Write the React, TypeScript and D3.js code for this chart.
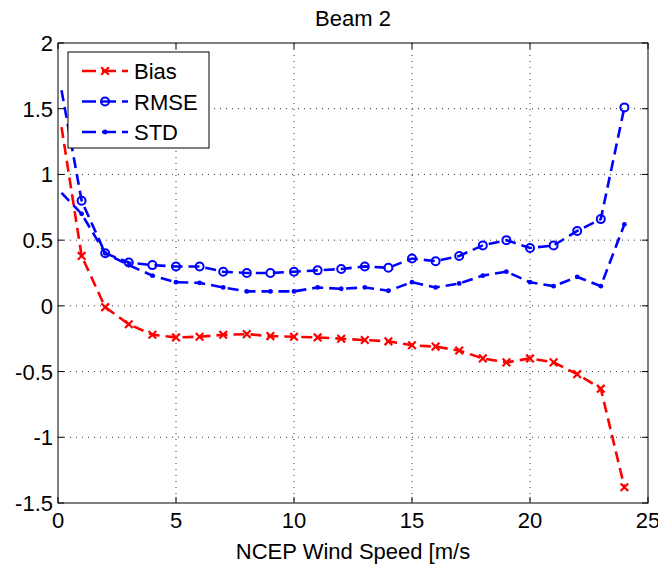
import React from "react";
import * as d3 from "d3";

const windSpeed = [0.15, 1, 2, 3, 4, 5, 6, 7, 8, 9, 10, 11, 12, 13, 14, 15, 16, 17, 18, 19, 20, 21, 22, 23, 24];
const bias = [1.36, 0.38, -0.01, -0.14, -0.22, -0.24, -0.235, -0.22, -0.215, -0.23, -0.235, -0.24, -0.25, -0.26, -0.27, -0.3, -0.31, -0.34, -0.4, -0.43, -0.4, -0.43, -0.52, -0.63, -1.38];
const rmse = [1.64, 0.8, 0.4, 0.33, 0.31, 0.3, 0.3, 0.26, 0.25, 0.25, 0.26, 0.27, 0.28, 0.3, 0.29, 0.36, 0.34, 0.38, 0.46, 0.5, 0.44, 0.46, 0.57, 0.66, 1.51];
const stdev = [0.86, 0.7, 0.4, 0.31, 0.23, 0.18, 0.175, 0.14, 0.11, 0.11, 0.11, 0.14, 0.13, 0.14, 0.115, 0.18, 0.14, 0.17, 0.23, 0.26, 0.18, 0.15, 0.22, 0.15, 0.62];
const xTicks = [0, 5, 10, 15, 20, 25];
const yTicks = [-1.5, -1, -0.5, 0, 0.5, 1, 1.5, 2];
const seriesNames = ["Bias", "RMSE", "STD"];
const title = "Beam 2";
const xLabel = "NCEP Wind Speed [m/s";

const W = 658;
const H = 565;
const L = 58, R = 648, T = 43, B = 503;
const FONT = "'Liberation Sans', Arial, Helvetica, sans-serif";

type Marker = "x" | "o" | ".";

function MarkerShape({ type, cx, cy, color }: { type: Marker; cx: number; cy: number; color: string }) {
  if (type === "x") {
    const s = 3.8;
    return (
      <path d={`M${cx - s},${cy - s}L${cx + s},${cy + s}M${cx - s},${cy + s}L${cx + s},${cy - s}`} stroke={color} strokeWidth={2.2} fill="none" />
    );
  }
  if (type === "o") {
    return <circle cx={cx} cy={cy} r={4} stroke={color} strokeWidth={2} fill="none" />;
  }
  return <circle cx={cx} cy={cy} r={2.4} fill={color} />;
}

export default function App() {
  const x = d3.scaleLinear().domain([0, 25]).range([L, R]);
  const y = d3.scaleLinear().domain([-1.5, 2]).range([B, T]);
  const line = d3
    .line<[number, number]>()
    .x((d) => x(d[0]))
    .y((d) => y(d[1]));

  const series: { name: string; values: number[]; color: string; marker: Marker }[] = [
    { name: seriesNames[0], values: bias, color: "#ff0000", marker: "x" },
    { name: seriesNames[1], values: rmse, color: "#0000ff", marker: "o" },
    { name: seriesNames[2], values: stdev, color: "#0000ff", marker: "." },
  ];

  const dash = "11,6";
  const tickLen = 6;

  return (
    <svg width={W} height={H} style={{ position: "absolute", left: 0, top: 0, background: "#fff" }} fontFamily={FONT}>
      <rect x={0} y={0} width={W} height={H} fill="#fff" />
      {/* grid */}
      {xTicks.slice(1, -1).map((t) => (
        <line key={"gx" + t} x1={x(t)} x2={x(t)} y1={T} y2={B} stroke="#333" strokeWidth={1} strokeDasharray="1,5" />
      ))}
      {yTicks.slice(1, -1).map((t) => (
        <line key={"gy" + t} x1={L} x2={R} y1={y(t)} y2={y(t)} stroke="#333" strokeWidth={1} strokeDasharray="1,5" />
      ))}
      {/* data */}
      {series.map((s) => {
        const pts = windSpeed.map((w, i) => [w, s.values[i]] as [number, number]);
        return (
          <g key={s.name}>
            <path d={line(pts) || ""} fill="none" stroke={s.color} strokeWidth={2.6} strokeDasharray={dash} />
            {pts.slice(1).map((p, i) => (
              <MarkerShape key={i} type={s.marker} cx={x(p[0])} cy={y(p[1])} color={s.color} />
            ))}
          </g>
        );
      })}
      {/* frame */}
      <rect x={L} y={T} width={R - L} height={B - T} fill="none" stroke="#000" strokeWidth={1} />
      {xTicks.map((t) => (
        <g key={"tx" + t}>
          <line x1={x(t)} x2={x(t)} y1={B} y2={B - tickLen} stroke="#000" />
          <line x1={x(t)} x2={x(t)} y1={T} y2={T + tickLen} stroke="#000" />
          <text x={x(t)} y={528} textAnchor="middle" fontSize={22} fill="#000">
            {t}
          </text>
        </g>
      ))}
      {yTicks.map((t) => (
        <g key={"ty" + t}>
          <line x1={L} x2={L + tickLen} y1={y(t)} y2={y(t)} stroke="#000" />
          <line x1={R} x2={R - tickLen} y1={y(t)} y2={y(t)} stroke="#000" />
          <text x={53} y={y(t) + 8} textAnchor="end" fontSize={22} fill="#000">
            {t}
          </text>
        </g>
      ))}
      {/* title and label */}
      <text x={(L + R) / 2} y={26} textAnchor="middle" fontSize={22} fill="#000">
        {title}
      </text>
      <text x={(L + R) / 2} y={559} textAnchor="middle" fontSize={22} fill="#000">
        {xLabel}
      </text>
      {/* legend */}
      <g>
        <rect x={68} y={52} width={141} height={96} fill="#fff" stroke="#000" strokeWidth={1} />
        {series.map((s, i) => {
          const ly = 71 + i * 30.5;
          return (
            <g key={"lg" + s.name}>
              <line x1={82} x2={128} y1={ly} y2={ly} stroke={s.color} strokeWidth={2.6} strokeDasharray="14,6" />
              <MarkerShape type={s.marker} cx={105} cy={ly} color={s.color} />
              <text x={134} y={ly + 8} fontSize={22} fill="#000">
                {s.name}
              </text>
            </g>
          );
        })}
      </g>
    </svg>
  );
}
